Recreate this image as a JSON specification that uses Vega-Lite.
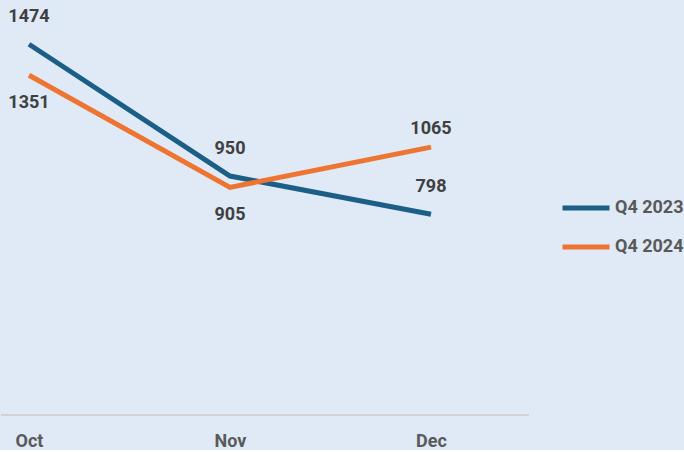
{
  "$schema": "https://vega.github.io/schema/vega-lite/v6.json",
  "width": 528,
  "height": 415,
  "padding": 0,
  "background": "#dfeaf6",
  "config": {"view": {"stroke": null}, "font": "Roboto"},
  "data": {"values": [
    {"month": "Oct", "series": "Q4 2023", "value": 1474},
    {"month": "Nov", "series": "Q4 2023", "value": 950},
    {"month": "Dec", "series": "Q4 2023", "value": 798},
    {"month": "Oct", "series": "Q4 2024", "value": 1351},
    {"month": "Nov", "series": "Q4 2024", "value": 905},
    {"month": "Dec", "series": "Q4 2024", "value": 1065}
  ]},
  "encoding": {
    "x": {"field": "month", "type": "ordinal", "sort": ["Oct", "Nov", "Dec"],
      "scale": {"type": "point", "range": [28, 430], "padding": 0},
      "axis": {"title": null, "domain": false, "ticks": false, "labelAngle": 0, "labelFont": "Roboto", "labelFontWeight": "bold", "labelFontSize": 18, "labelColor": "#595959", "labelPadding": 17}},
    "y": {"field": "value", "type": "quantitative", "scale": {"domain": [0, 1650], "nice": false, "zero": true}, "axis": null}
  },
  "layer": [
    {"mark": {"type": "rule", "color": "#d0d3d6", "strokeWidth": 1.5}, "encoding": {"y": {"datum": 0}, "x": null}},
    {"mark": {"type": "line", "strokeWidth": 5},
     "encoding": {"color": {"field": "series", "type": "nominal",
        "scale": {"domain": ["Q4 2023", "Q4 2024"], "range": ["#1b5e86", "#ee7431"]},
        "legend": {"title": null, "orient": "none", "legendX": 559, "legendY": 182, "symbolType": "stroke", "symbolSize": 2209, "symbolStrokeWidth": 5, "labelFont": "Roboto", "labelFontWeight": "bold", "labelFontSize": 18, "labelColor": "#595959", "rowPadding": 3, "labelOffset": 3}}}},
    {"transform": [{"filter": "datum.series == 'Q4 2023'"}],
     "mark": {"type": "text", "dy": -27, "fontWeight": "bold", "fontSize": 18, "color": "#404040", "font": "Roboto"},
     "encoding": {"text": {"field": "value", "type": "quantitative"}}},
    {"transform": [{"filter": "datum.series == 'Q4 2024' && datum.month == 'Dec'"}],
     "mark": {"type": "text", "dy": -18, "fontWeight": "bold", "fontSize": 18, "color": "#404040", "font": "Roboto"},
     "encoding": {"text": {"field": "value", "type": "quantitative"}}},
    {"transform": [{"filter": "datum.series == 'Q4 2024' && datum.month != 'Dec'"}],
     "mark": {"type": "text", "dy": 28, "fontWeight": "bold", "fontSize": 18, "color": "#404040", "font": "Roboto"},
     "encoding": {"text": {"field": "value", "type": "quantitative"}}}
  ]
}
